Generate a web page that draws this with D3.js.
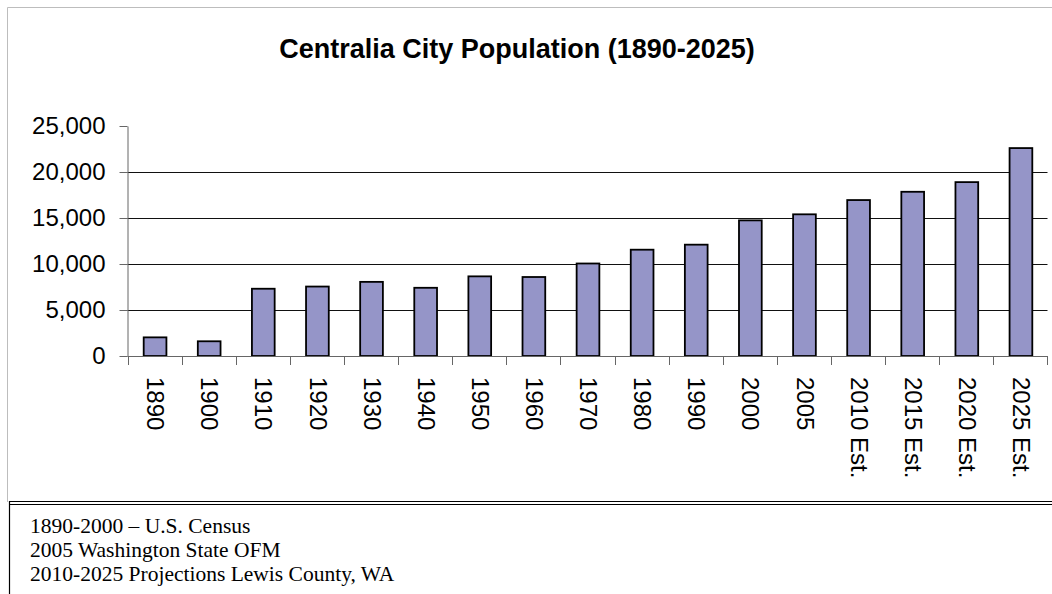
<!DOCTYPE html>
<html lang="en">
  <head>
    <title>Centralia City Population (1890-2025)</title>
    <script src="https://d3js.org/d3.v7.min.js"></script>
    <style>
      body { margin: 0; background: #fff; }
      svg { display: block; }
    </style>
  </head>
  <body>
    <div id="chart"></div>
    <script>
      // values
      const categories = ["1890", "1900", "1910", "1920", "1930", "1940", "1950", "1960",
        "1970", "1980", "1990", "2000", "2005", "2010 Est.", "2015 Est.", "2020 Est.", "2025 Est."];
      const population = [2026, 1600, 7311, 7549, 8058, 7414, 8657, 8586,
        10054, 11555, 12101, 14742, 15400, 16950, 17850, 18900, 22600];
      const yTicks = [0, 5000, 10000, 15000, 20000, 25000];
      const sources = [
        "1890-2000 \u2013 U.S. Census",
        "2005 Washington State OFM",
        "2010-2025 Projections Lewis County, WA"
      ];

      var width = 1052;
      var height = 594;
      var plot = { left: 127.5, right: 1047.5, top: 126, bottom: 356 };

      var svg = d3
        .select("#chart")
        .append("svg")
        .attr("width", width)
        .attr("height", height);

      // chart frame (grey) and the footnote box below it
      svg.append("path")
        .attr("d", "M7.5,502 V7.5 H1052")
        .attr("fill", "none")
        .attr("stroke", "#bdbdbd")
        .attr("stroke-width", 1);
      svg.append("line").attr("x1", 9).attr("x2", 1052).attr("y1", 501.5).attr("y2", 501.5)
        .attr("stroke", "#000").attr("stroke-width", 1.2);
      svg.append("line").attr("x1", 9).attr("x2", 1052).attr("y1", 504.5).attr("y2", 504.5)
        .attr("stroke", "#000").attr("stroke-width", 1.2);
      svg.append("line").attr("x1", 9.5).attr("x2", 9.5).attr("y1", 501).attr("y2", 594)
        .attr("stroke", "#000").attr("stroke-width", 1.2);

      svg.append("text")
        .attr("x", 517)
        .attr("y", 58)
        .attr("text-anchor", "middle")
        .style("font-family", "'Liberation Sans', Arial, sans-serif")
        .style("font-weight", "bold")
        .style("font-size", "27px")
        .text("Centralia City Population (1890-2025)");

      var x = d3.scaleBand()
        .domain(categories)
        .range([plot.left, plot.right])
        .padding(0);

      var y = d3.scaleLinear()
        .domain([0, 25000])
        .range([plot.bottom, plot.top]);

      // gridlines
      svg.append("g")
        .selectAll("line")
        .data(yTicks.filter(function (d) { return d > 0 && d < 25000; }))
        .enter()
        .append("line")
        .attr("x1", plot.left)
        .attr("x2", plot.right)
        .attr("y1", function (d) { return Math.round(y(d)) + 0.5; })
        .attr("y2", function (d) { return Math.round(y(d)) + 0.5; })
        .attr("stroke", "#111")
        .attr("stroke-width", 1);

      // y axis
      var yAxis = svg.append("g")
        .attr("transform", "translate(" + plot.left + ",0)")
        .call(d3.axisLeft(y)
          .tickValues(yTicks)
          .tickFormat(d3.format(","))
          .tickSize(8)
          .tickSizeOuter(0)
          .tickPadding(14));
      yAxis.selectAll("path, line").attr("stroke", "#666");
      yAxis.selectAll("text")
        .attr("fill", "#000")
        .style("font-family", "'Liberation Sans', Arial, sans-serif")
        .style("font-size", "24px");

      // bars
      var barW = x.bandwidth() * 0.42;
      svg.append("g")
        .selectAll("rect")
        .data(population)
        .enter()
        .append("rect")
        .attr("x", function (d, i) { return x(categories[i]) + (x.bandwidth() - barW) / 2 + 0.5; })
        .attr("y", function (d) { return y(d); })
        .attr("width", barW)
        .attr("height", function (d) { return y(0) - y(d); })
        .attr("fill", "#9595c8")
        .attr("stroke", "#000")
        .attr("stroke-width", 1.8);

      // x axis: baseline, ticks between categories, rotated labels
      var xAxis = svg.append("g");
      xAxis.append("line")
        .attr("x1", plot.left).attr("x2", plot.right)
        .attr("y1", plot.bottom + 0.5).attr("y2", plot.bottom + 0.5)
        .attr("stroke", "#666");
      xAxis.selectAll(".tick")
        .data(categories.concat(["end"]))
        .enter()
        .append("line")
        .attr("class", "tick")
        .attr("x1", function (d) { return d === "end" ? plot.right : Math.round(x(d)) + 0.5; })
        .attr("x2", function (d) { return d === "end" ? plot.right : Math.round(x(d)) + 0.5; })
        .attr("y1", plot.bottom)
        .attr("y2", plot.bottom + 9)
        .attr("stroke", "#666");
      xAxis.selectAll("text")
        .data(categories)
        .enter()
        .append("text")
        .attr("transform", function (d) {
          return "translate(" + (x(d) + x.bandwidth() / 2 + 1) + "," + 377 + ") rotate(90)";
        })
        .attr("dy", "0.35em")
        .attr("text-anchor", "start")
        .style("font-family", "'Liberation Sans', Arial, sans-serif")
        .style("font-size", "24px")
        .text(function (d) { return d; });

      // source notes
      svg.append("g")
        .selectAll("text")
        .data(sources)
        .enter()
        .append("text")
        .attr("x", 30)
        .attr("y", function (d, i) { return 532.5 + i * 24; })
        .style("font-family", "'Liberation Serif', 'Times New Roman', serif")
        .style("font-size", "21.5px")
        .text(function (d) { return d; });
    </script>
  </body>
</html>
